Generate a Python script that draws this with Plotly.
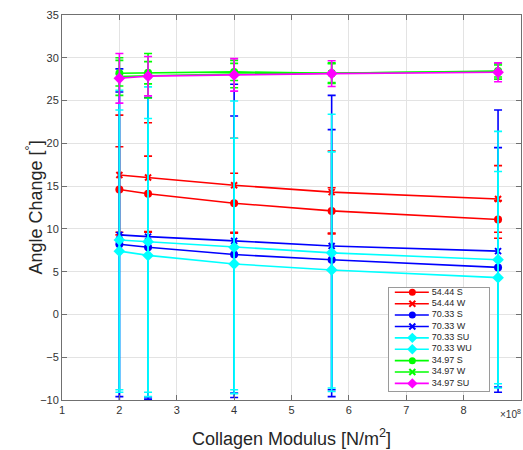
import plotly.graph_objects as go

# ---------------- data ----------------
modulus = [2.0e8, 2.5e8, 4.0e8, 5.7e8, 8.6e8]  # N/m^2

s5444_S = [14.6, 14.1, 13.0, 12.1, 11.1]
s5444_S_err = [5.0, 4.4, 3.5, 2.7, 2.2]
s5444_W = [16.3, 16.0, 15.1, 14.3, 13.5]
s5444_W_err = [7.0, 6.4, 5.5, 4.8, 3.9]
s7033_S = [8.2, 7.85, 7.0, 6.4, 5.5]
s7033_S_err = [17.8, 17.5, 16.2, 15.2, 14.0]
s7033_W = [9.3, 9.1, 8.6, 8.0, 7.4]
s7033_W_err = [19.4, 19.0, 18.3, 17.6, 16.5]
s7033_SU = [7.4, 6.9, 5.9, 5.2, 4.3]
s7033_SU_err = [16.5, 16.0, 14.7, 13.8, 12.4]
s7033_WU = [8.7, 8.5, 7.85, 7.2, 6.4]
s7033_WU_err = [17.5, 18.1, 17.1, 16.2, 15.0]
s3497_S = [28.2, 28.25, 28.35, 28.2, 28.45]
s3497_S_err = [1.5, 1.3, 1.0, 1.2, 0.7]
s3497_W = [27.8, 27.9, 28.1, 28.2, 28.4]
s3497_W_err = [2.2, 2.6, 1.6, 1.1, 0.9]
s3497_SU = [27.6, 27.85, 28.0, 28.15, 28.3]
s3497_SU_err = [2.9, 2.3, 1.9, 1.5, 1.1]

series_names = ["54.44 S", "54.44 W", "70.33 S", "70.33 W", "70.33 SU",
                "70.33 WU", "34.97 S", "34.97 W", "34.97 SU"]
x_ticks = [1, 2, 3, 4, 5, 6, 7, 8, 9]
y_ticks = [-10, -5, 0, 5, 10, 15, 20, 25, 30, 35]

# ---------------- style ----------------
RED, BLUE, CYAN, GREEN, MAG = "#ff0000", "#0000ff", "#00ffff", "#00ff00", "#ff00ff"
series = [
    (series_names[0], s5444_S, s5444_S_err, RED, "circle"),
    (series_names[1], s5444_W, s5444_W_err, RED, "x-thin"),
    (series_names[2], s7033_S, s7033_S_err, BLUE, "circle"),
    (series_names[3], s7033_W, s7033_W_err, BLUE, "x-thin"),
    (series_names[4], s7033_SU, s7033_SU_err, CYAN, "diamond"),
    (series_names[5], s7033_WU, s7033_WU_err, CYAN, "diamond"),
    (series_names[6], s3497_S, s3497_S_err, GREEN, "circle"),
    (series_names[7], s3497_W, s3497_W_err, GREEN, "x-thin"),
    (series_names[8], s3497_SU, s3497_SU_err, MAG, "diamond"),
]


def marker_for(sym, col, big=True):
    if sym == "x-thin":
        return dict(symbol=sym, size=6, color=col, line=dict(width=2, color=col))
    if sym == "diamond":
        return dict(symbol=sym, size=9 if big else 8, color=col, line=dict(width=0))
    return dict(symbol=sym, size=8 if big else 7, color=col, line=dict(width=0))


fig = go.Figure()
for name, yv, ev, col, sym in series:
    fig.add_trace(go.Scatter(
        x=modulus, y=yv, name=name, mode="lines+markers",
        line=dict(color=col, width=1.6),
        marker=marker_for(sym, col),
        error_y=dict(type="data", array=ev, visible=True, color=col,
                     thickness=1.6, width=4),
        showlegend=False, hoverinfo="skip",
    ))

# ---------------- compact legend (drawn on its own small axes) ----------------
for i, (name, yv, ev, col, sym) in enumerate(series):
    fig.add_trace(go.Scatter(
        x=[0.06, 0.40], y=[i, i], xaxis="x2", yaxis="y2", mode="lines",
        line=dict(color=col, width=1.6), showlegend=False, hoverinfo="skip"))
    fig.add_trace(go.Scatter(
        x=[0.235], y=[i], xaxis="x2", yaxis="y2", mode="markers",
        marker=marker_for(sym, col, big=False), showlegend=False, hoverinfo="skip"))
    fig.add_trace(go.Scatter(
        x=[0.43], y=[i], xaxis="x2", yaxis="y2", mode="text", text=[name],
        textposition="middle right",
        textfont=dict(family="Liberation Sans, Arial", size=9, color="#262626"),
        showlegend=False, hoverinfo="skip", cliponaxis=False))

axis_font = dict(family="Liberation Sans, Arial", size=11, color="#333333")
title_font = dict(family="Liberation Sans, Arial", size=18, color="#262626")
grid_col = "#e3e3e3"
line_col = "#707070"

fig.update_layout(
    width=523, height=450,
    margin=dict(l=62, r=2, t=15, b=50),
    paper_bgcolor="white", plot_bgcolor="white",
    font=dict(family="Liberation Sans, Arial", color="#262626"),
    xaxis=dict(
        range=[1e8, 9e8], tickvals=[t * 1e8 for t in x_ticks],
        ticktext=[str(t) for t in x_ticks],
        showgrid=True, gridcolor=grid_col, gridwidth=1,
        zeroline=False, showline=True, linecolor=line_col, linewidth=1,
        mirror="ticks", ticks="inside", ticklen=5, tickcolor=line_col,
        tickfont=axis_font,
    ),
    yaxis=dict(
        range=[-10, 35], tickvals=y_ticks,
        showgrid=True, gridcolor=grid_col, gridwidth=1,
        zeroline=False, showline=True, linecolor=line_col, linewidth=1,
        mirror="ticks", ticks="inside", ticklen=5, tickcolor=line_col,
        tickfont=axis_font,
    ),
    xaxis2=dict(domain=[0.712, 0.930], anchor="y2", range=[0, 1],
                showgrid=False, zeroline=False, showticklabels=False, ticks="",
                showline=True, mirror=True, linecolor="#9a9a9a", linewidth=1),
    yaxis2=dict(domain=[0.023, 0.291], anchor="x2", range=[8.68, -0.38],
                showgrid=False, zeroline=False, showticklabels=False, ticks="",
                showline=True, mirror=True, linecolor="#9a9a9a", linewidth=1),
    shapes=[dict(type="rect", xref="x2", yref="y2", x0=0, x1=1, y0=8.68, y1=-0.38,
                 fillcolor="white", line=dict(width=0), layer="below")],
    annotations=[
        dict(text="×10<sup>8</sup>", xref="paper", yref="paper",
             x=0.977, y=-0.036, xanchor="center", yanchor="middle",
             showarrow=False,
             font=dict(family="Liberation Sans, Arial", size=10, color="#333333")),
        dict(text="Collagen Modulus [N/m<sup>2</sup>]", xref="paper", yref="paper",
             x=0.5, y=-0.097, xanchor="center", yanchor="middle",
             showarrow=False, font=title_font),
        dict(text="Angle Change [<sup>°</sup>]", xref="paper", yref="paper",
             x=0, y=0.5, xshift=-27, xanchor="center", yanchor="middle",
             textangle=-90, showarrow=False, font=title_font),
    ],
)

fig.write_html("out.html")
